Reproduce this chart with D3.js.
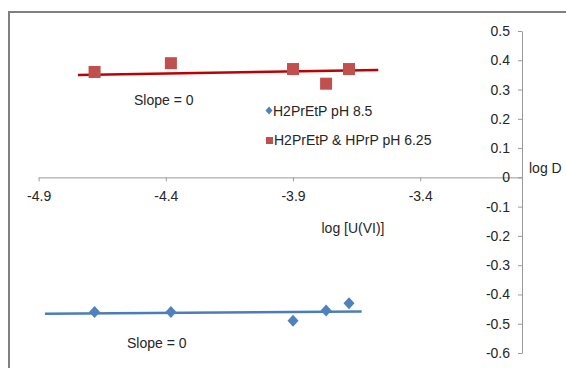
<!DOCTYPE html>
<html>
<head>
<meta charset="utf-8">
<script src="https://cdn.jsdelivr.net/npm/d3@7"></script>
<style>
  body { margin: 0; background: #fff; }
  text { font-family: "Liberation Sans", Arial, sans-serif; fill: #262626; }
</style>
</head>
<body>
<div id="chart"></div>
<script>
// log [U(VI)] values for both series
const logU = [-4.68, -4.38, -3.90, -3.77, -3.68];
// log D, H2PrEtP pH 8.5
const logDBlue = [-0.46, -0.46, -0.49, -0.455, -0.43];
// log D, H2PrEtP & HPrP pH 6.25
const logDRed = [0.36, 0.39, 0.37, 0.32, 0.37];
// fitted lines (end points)
const fitBlueX = [-4.875, -3.63];
const fitBlueY = [-0.466, -0.458];
const fitRedX = [-4.745, -3.565];
const fitRedY = [0.350, 0.367];
const xTicks = [-4.9, -4.4, -3.9, -3.4];
const yTicks = [-0.6, -0.5, -0.4, -0.3, -0.2, -0.1, 0, 0.1, 0.2, 0.3, 0.4, 0.5];
const seriesNames = ["H2PrEtP pH 8.5", "H2PrEtP & HPrP pH 6.25"];

const width = 566, height = 368;
const blue = "#4F81BD", red = "#C0504D";

const svg = d3.select("#chart").append("svg")
  .attr("width", width)
  .attr("height", height);

// frame (only top and left edges show in the crop)
svg.append("path")
  .attr("d", `M9,${height} V12 H${width}`)
  .attr("fill", "none")
  .attr("stroke", "#808080")
  .attr("stroke-width", 2);

const x = d3.scaleLinear().domain([-4.9, -3.0]).range([38.6, 522]);
const y = d3.scaleLinear().domain([-0.6, 0.5]).range([353, 31]);
const fmt = d => String(+d.toFixed(1));

// x axis at y = 0
const xAxisGroup = svg.append("g")
  .attr("transform", `translate(0, ${y(0)})`)
  .call(d3.axisBottom(x).tickValues(xTicks).tickFormat(fmt).tickSize(4).tickSizeOuter(0).tickPadding(10));

// y axis at right end
const yAxisGroup = svg.append("g")
  .attr("transform", `translate(${x(-3.0)}, 0)`)
  .call(d3.axisLeft(y).tickValues(yTicks).tickFormat(fmt).tickSize(4).tickSizeOuter(0).tickPadding(8));

[xAxisGroup, yAxisGroup].forEach(ax => {
  ax.selectAll("path, line").attr("stroke", "#9a9a9a");
  ax.selectAll("text")
    .attr("fill", "#262626")
    .attr("font-size", "14px")
    .attr("font-family", "Liberation Sans, Arial, sans-serif");
});

//axis titles
svg.append("text")
  .attr("x", 353)
  .attr("y", 233)
  .attr("text-anchor", "middle")
  .attr("font-size", "14px")
  .text("log [U(VI)]");

svg.append("text")
  .attr("x", 529)
  .attr("y", 173)
  .attr("font-size", "14px")
  .text("log D");

// fitted lines
const line = d3.line().x(d => x(d[0])).y(d => y(d[1]));
svg.append("path")
  .datum(d3.zip(fitRedX, fitRedY))
  .attr("d", line)
  .attr("stroke", "#C00000")
  .attr("stroke-width", 2.5)
  .attr("fill", "none");
svg.append("path")
  .datum(d3.zip(fitBlueX, fitBlueY))
  .attr("d", line)
  .attr("stroke", "#4A7EBB")
  .attr("stroke-width", 2.5)
  .attr("fill", "none");

// red squares
svg.selectAll(".sq")
  .data(d3.zip(logU, logDRed))
  .join("rect")
  .attr("class", "sq")
  .attr("x", d => x(d[0]) - 6)
  .attr("y", d => y(d[1]) - 6)
  .attr("width", 12)
  .attr("height", 12)
  .attr("fill", red);

// blue diamonds
const diamond = (cx, cy, w, h) => `M${cx},${cy - h / 2} L${cx + w / 2},${cy} L${cx},${cy + h / 2} L${cx - w / 2},${cy} Z`;
svg.selectAll(".dm")
  .data(d3.zip(logU, logDBlue))
  .join("path")
  .attr("class", "dm")
  .attr("d", d => diamond(x(d[0]), y(d[1]), 11, 12))
  .attr("fill", blue);

// slope labels
svg.append("text")
  .attr("x", 134).attr("y", 105)
  .attr("font-size", "14px")
  .text("Slope = 0");
svg.append("text")
  .attr("x", 127).attr("y", 348)
  .attr("font-size", "14px")
  .text("Slope = 0");

// legend
const legend = svg.append("g");
legend.append("path")
  .attr("d", diamond(269, 110.5, 7, 8))
  .attr("fill", blue);
legend.append("text")
  .attr("x", 273).attr("y", 115.5)
  .attr("font-size", "14px")
  .text(seriesNames[0]);
legend.append("rect")
  .attr("x", 266).attr("y", 137)
  .attr("width", 7).attr("height", 7)
  .attr("fill", red);
legend.append("text")
  .attr("x", 274).attr("y", 144.5)
  .attr("font-size", "14px")
  .text(seriesNames[1]);
</script>
</body>
</html>
